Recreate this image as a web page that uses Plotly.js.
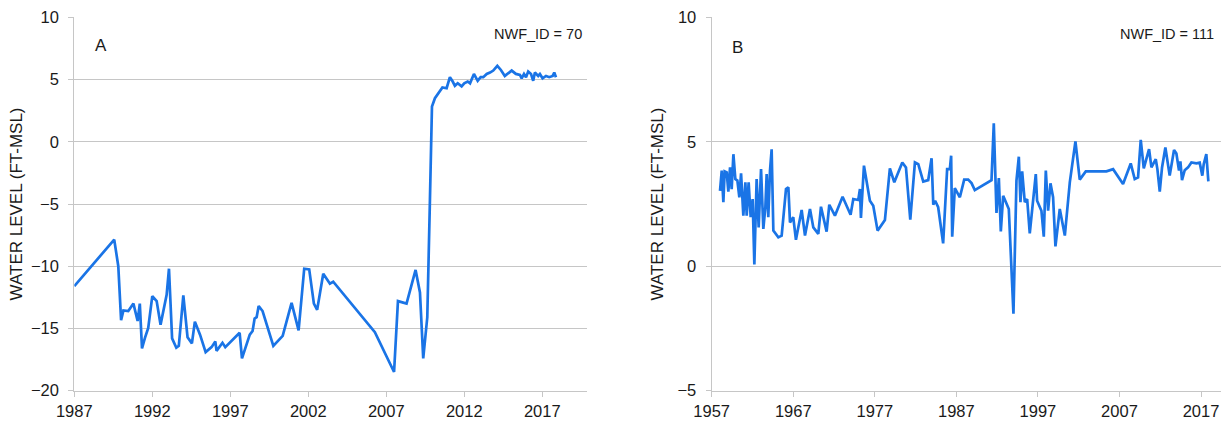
<!DOCTYPE html>
<html>
<head>
<meta charset="utf-8">
<script src="https://cdn.plot.ly/plotly-3.0.1.min.js"></script>
<style>
  html, body { margin: 0; padding: 0; background: #fff; }
  #chart { width: 1221px; height: 423px; }
</style>
</head>
<body>
<div id="chart"></div>
<script>
// Panel A (NWF_ID = 70)
const yearsA = [1987.0, 1989.56, 1989.82, 1990.0, 1990.15, 1990.46, 1990.79, 1991.06, 1991.2, 1991.34,
  1991.53, 1991.74, 1992.0, 1992.28, 1992.53, 1992.77, 1992.92, 1993.07, 1993.27, 1993.54,
  1993.7, 1993.99, 1994.26, 1994.54, 1994.73, 1995.06, 1995.42, 1995.8, 1996.04, 1996.12,
  1996.5, 1996.68, 1997.6, 1997.75, 1998.25, 1998.43, 1998.56, 1998.69, 1998.82, 1999.07,
  1999.76, 2000.36, 2000.93, 2001.38, 2001.74, 2002.06, 2002.36, 2002.57, 2002.96, 2003.39,
  2003.6, 2006.27, 2007.5, 2007.75, 2008.3, 2008.88, 2009.16, 2009.37, 2009.63, 2009.8,
  2009.93, 2010.12, 2010.4, 2010.6, 2010.87, 2011.08, 2011.26, 2011.4, 2011.58, 2011.83,
  2012.0, 2012.22, 2012.37, 2012.62, 2012.86, 2013.05, 2013.22, 2013.44, 2013.65, 2013.86,
  2014.12, 2014.35, 2014.6, 2014.82, 2015.04, 2015.31, 2015.57, 2015.68, 2015.83, 2015.96,
  2016.1, 2016.28, 2016.42, 2016.53, 2016.74, 2016.85, 2017.02, 2017.24, 2017.45, 2017.67,
  2017.77, 2017.88];
const levelsA = [-11.6, -7.86, -10.0, -14.33, -13.55, -13.6, -13.0, -14.4, -13.0, -16.6,
  -15.75, -14.95, -12.4, -12.8, -14.7, -13.1, -12.3, -10.2, -15.8, -16.55,
  -16.4, -12.35, -15.7, -16.2, -14.45, -15.5, -16.9, -16.5, -16.05, -16.8,
  -16.15, -16.5, -15.35, -17.4, -15.5, -15.2, -14.2, -14.1, -13.2, -13.6,
  -16.4, -15.6, -12.95, -15.15, -10.2, -10.25, -13.0, -13.5, -10.6, -11.4,
  -11.24, -15.3, -18.5, -12.8, -13.0, -10.3, -12.1, -17.4, -14.1, -4.65,
  2.83, 3.5, 4.04, 4.36, 4.3, 5.19, 4.84, 4.5, 4.7, 4.45,
  4.7, 4.84, 4.7, 5.45, 4.9, 5.2, 5.19, 5.45, 5.56, 5.72,
  6.1, 5.77, 5.29, 5.5, 5.72, 5.45, 5.37, 5.1, 5.45, 5.19,
  5.64, 5.45, 4.9, 5.56, 5.29, 5.45, 5.1, 5.29, 5.19, 5.29,
  5.56, 5.19];

// Panel B (NWF_ID = 111)
const yearsB = [1958.02, 1958.23, 1958.43, 1958.59, 1958.84, 1959.04, 1959.25, 1959.45, 1959.66, 1959.9,
  1960.15, 1960.39, 1960.6, 1960.88, 1961.13, 1961.29, 1961.53, 1961.78, 1962.02, 1962.23,
  1962.51, 1962.76, 1963.05, 1963.33, 1963.58, 1963.74, 1963.94, 1964.15, 1964.35, 1964.56,
  1965.17, 1965.58, 1966.11, 1966.4, 1966.6, 1967.0, 1967.33, 1968.03, 1968.44, 1969.05,
  1969.46, 1970.07, 1970.4, 1971.09, 1971.42, 1972.11, 1973.05, 1974.03, 1974.36, 1974.97,
  1975.18, 1975.3, 1975.67, 1976.4, 1976.81, 1977.34, 1978.24, 1978.85, 1979.39, 1980.37,
  1980.82, 1981.35, 1981.92, 1982.33, 1982.94, 1983.55, 1983.96, 1984.17, 1984.4, 1984.77,
  1985.38, 1985.87, 1986.2, 1986.36, 1986.49, 1986.81, 1987.43, 1987.96, 1988.45, 1988.86,
  1989.26, 1991.31, 1991.59, 1991.92, 1992.21, 1992.45, 1992.74, 1993.43, 1994.0, 1994.37,
  1994.66, 1994.86, 1995.07, 1995.39, 1995.68, 1996.0, 1996.74, 1996.9, 1997.43, 1997.72,
  1997.97, 1998.25, 1998.54, 1998.86, 1999.15, 1999.68, 2000.3, 2000.91, 2001.6, 2002.13,
  2002.87, 2005.4, 2006.22, 2007.44, 2008.38, 2008.87, 2009.28, 2009.61, 2009.98, 2010.63,
  2010.92, 2011.45, 2011.65, 2011.94, 2012.22, 2012.63, 2013.16, 2013.69, 2013.98, 2014.3,
  2014.47, 2014.67, 2015.0, 2015.41, 2015.82, 2016.43, 2016.84, 2017.16, 2017.33, 2017.65,
  2017.9];
const levelsB = [3.03, 3.84, 2.57, 3.81, 3.77, 3.0, 3.97, 3.1, 4.5, 3.5,
  3.44, 2.77, 3.73, 2.03, 3.37, 2.03, 3.37, 1.97, 2.7, 0.07,
  3.5, 1.56, 3.9, 1.5, 2.37, 3.7, 1.97, 3.84, 4.7, 1.43,
  1.16, 1.23, 3.1, 3.17, 1.76, 1.97, 1.06, 2.26, 1.23, 2.3,
  1.56, 1.3, 2.39, 1.39, 2.47, 2.03, 2.79, 2.07, 2.7, 2.66,
  3.1, 1.94, 4.04, 2.63, 2.43, 1.43, 1.86, 3.93, 3.37, 4.17,
  3.97, 1.87, 4.17, 4.1, 3.4, 3.46, 4.34, 2.47, 2.63, 2.37,
  0.92, 3.9, 3.9, 4.44, 1.19, 3.14, 2.77, 3.48, 3.48, 3.34,
  3.06, 3.46, 5.74, 2.14, 3.54, 1.4, 2.83, 2.3, -1.91, 3.44,
  4.4, 2.57, 3.81, 2.57, 2.7, 1.32, 3.7, 2.63, 2.23, 1.19,
  3.84, 2.23, 3.33, 2.77, 0.8, 2.3, 1.23, 3.37, 5.01, 3.48,
  3.81, 3.81, 3.9, 3.3, 4.13, 3.5, 3.57, 5.08, 3.93, 4.7,
  3.97, 4.3, 3.9, 3.0, 3.97, 4.77, 3.64, 4.67, 4.53, 3.84,
  4.21, 3.46, 3.86, 3.97, 4.17, 4.13, 4.16, 3.64, 4.1, 4.5,
  3.41];

const ticksA = [1987, 1992, 1997, 2002, 2007, 2012, 2017];
const ticksB = [1957, 1967, 1977, 1987, 1997, 2007, 2017];
const panelLabels = ['A', 'B'];
const idLabels = ['NWF_ID = 70', 'NWF_ID = 111'];
const yTitle = 'WATER LEVEL (FT-MSL)';

const lineColor = '#1a74e6';
const gridColor = '#c6c6c6';
const fontFam = '"Liberation Sans", Arial, sans-serif';
const txt = '#1a1a1a';

const traces = [
  {x: yearsA, y: levelsA, type: 'scatter', mode: 'lines', xaxis: 'x', yaxis: 'y',
   line: {color: lineColor, width: 2.7}, hoverinfo: 'x+y'},
  {x: yearsB, y: levelsB, type: 'scatter', mode: 'lines', xaxis: 'x2', yaxis: 'y2',
   line: {color: lineColor, width: 2.7}, hoverinfo: 'x+y'}
];

const yDom = [(423 - 390.7) / 423, (423 - 17.3) / 423];

function xAx(dom, range, ticks) {
  return {
    domain: dom, range: range, tickmode: 'array', tickvals: ticks, ticktext: ticks.map(String),
    showgrid: false, zeroline: false, showline: true, linecolor: gridColor, linewidth: 1.2,
    ticks: 'outside', ticklen: 5, tickcolor: gridColor, tickwidth: 1.2,
    tickfont: {family: fontFam, size: 16.5, color: txt}, fixedrange: true
  };
}
function yAx(anchor, range, dtick, standoff) {
  return {
    anchor: anchor, domain: yDom, range: range, dtick: dtick, tick0: 0,
    showgrid: true, gridcolor: gridColor, gridwidth: 1.2, zeroline: false,
    showline: true, linecolor: gridColor, linewidth: 1.2,
    ticks: 'outside', ticklen: 5, tickcolor: gridColor, tickwidth: 1.2,
    ticklabelstandoff: 6,
    tickfont: {family: fontFam, size: 16.5, color: txt},
    title: {text: yTitle, font: {family: fontFam, size: 17, color: txt}, standoff: standoff},
    automargin: false, fixedrange: true
  };
}

const layout = {
  width: 1221, height: 423,
  margin: {l: 0, r: 0, t: 0, b: 0},
  paper_bgcolor: '#ffffff', plot_bgcolor: '#ffffff',
  showlegend: false,
  xaxis: xAx([74.3 / 1221, 586.7 / 1221], [1987, 2019.85], ticksA),
  yaxis: yAx('x', [-20, 10], 5, 3),
  xaxis2: Object.assign(xAx([711.7 / 1221, 1.0], [1957, 2019.45], ticksB), {anchor: 'y2'}),
  yaxis2: yAx('x2', [-5, 10], 5, 9),
  annotations: [
    {xref: 'x', yref: 'y', x: 1988.7, y: 7.7, text: panelLabels[0], showarrow: false,
     font: {family: fontFam, size: 17, color: txt}},
    {xref: 'x2', yref: 'y2', x: 1960.2, y: 8.8, text: panelLabels[1], showarrow: false,
     font: {family: fontFam, size: 17, color: txt}},
    {xref: 'x domain', yref: 'y domain', x: 0.995, y: 0.955, xanchor: 'right', yanchor: 'middle',
     text: idLabels[0], showarrow: false, font: {family: fontFam, size: 14.5, color: txt}},
    {xref: 'x2 domain', yref: 'y2 domain', x: 0.99, y: 0.955, xanchor: 'right', yanchor: 'middle',
     text: idLabels[1], showarrow: false, font: {family: fontFam, size: 14.5, color: txt}}
  ]
};
layout.xaxis.anchor = 'y';
layout.xaxis2.anchor = 'y2';

Plotly.newPlot('chart', traces, layout, {displayModeBar: false, staticPlot: false});
</script>
</body>
</html>
